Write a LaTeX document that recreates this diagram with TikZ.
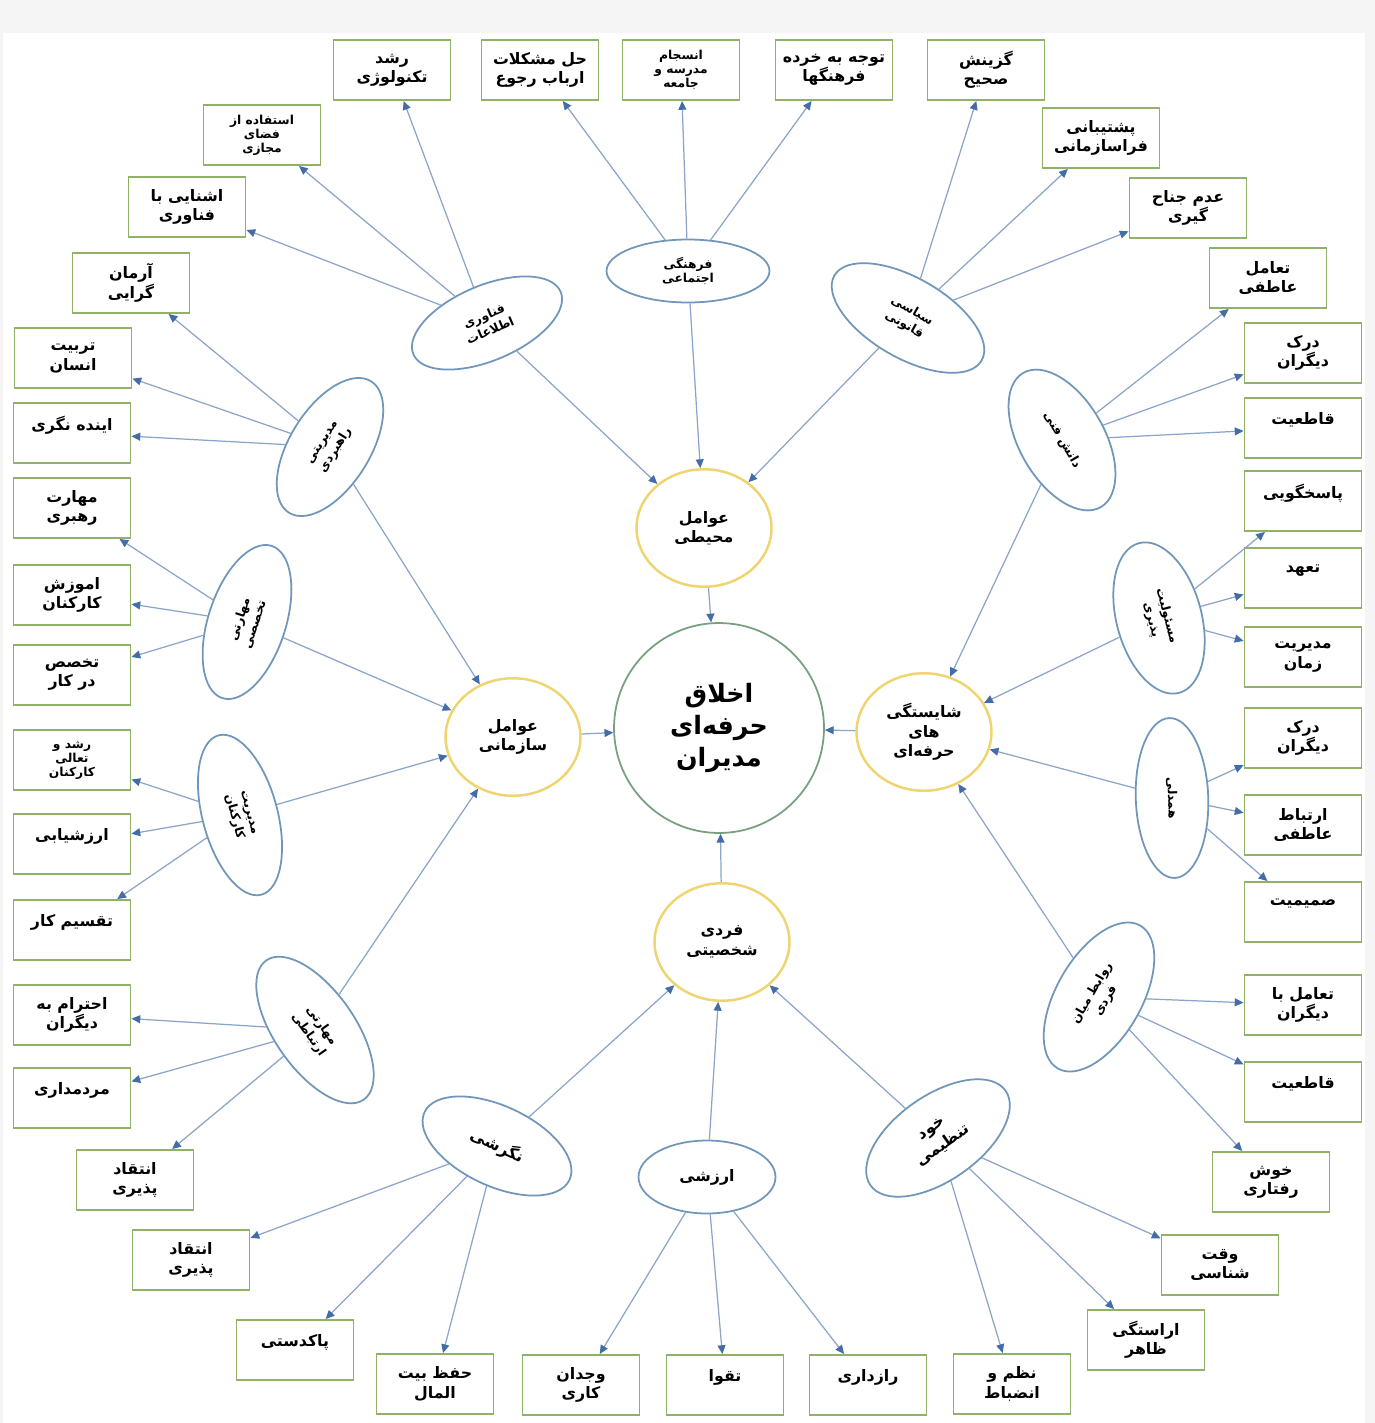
\documentclass[tikz,border=0pt]{standalone}
\usepackage{fontspec}
\newfontfamily\arabicfont[Script=Arabic]{DejaVu Sans}
\TeXXeTstate=1
\usetikzlibrary{shapes.geometric,arrows.meta}
\definecolor{boxgreen}{RGB}{143,178,104}
\definecolor{ellblue}{RGB}{112,150,186}
\definecolor{linkblue}{RGB}{138,164,202}
\definecolor{tipblue}{RGB}{68,108,168}
\definecolor{catyellow}{RGB}{240,212,112}
\definecolor{coregreen}{RGB}{118,160,128}
\newcommand{\rl}[1]{\beginR #1\endR}

\begin{document}
\begin{tikzpicture}[
    x=0.02cm, y=-0.02cm,
    font=\arabicfont,
    leaf/.style={
        draw=boxgreen,
        line width=1.1pt,
        minimum width=2.34cm,
        minimum height=1.2cm,
        inner sep=2pt,
        align=center,
        font=\arabicfont\bfseries\small
    },
    leafthree/.style={leaf, font=\arabicfont\bfseries\scriptsize},
    sub/.style={ellipse, draw=ellblue, line width=1pt, inner sep=0pt,
        align=center, font=\arabicfont\bfseries\scriptsize},
    subbig/.style={sub, font=\arabicfont\bfseries\small},
    cat/.style={ellipse, draw=catyellow, line width=1.4pt,
        minimum width=2.7cm, minimum height=2.35cm,
        align=center, font=\arabicfont\bfseries\small},
    core/.style={circle, draw=coregreen, line width=1pt,
        minimum size=4.2cm, align=center, font=\arabicfont\bfseries\Large},
    arrow/.style={draw=linkblue, line width=0.7pt,
        -{Triangle[length=5pt, width=4.5pt, color=tipblue]}}
]
\useasboundingbox (0,0) rectangle (1375,1423);
\fill[gray!8] (0,0) rectangle (1375,1423);
\fill[white] (3,33) rectangle (1365,1423);

% ============================================================
% MRKEZ I KATEGORIE
% ============================================================
\node[core] (core) at (719,728) {\rl{اخلاق}\\\rl{حرفه‌ای}\\\rl{مدیران}};
\node[cat] (env) at (704,528) {\rl{عوامل}\\\rl{محیطی}};
\node[cat] (org) at (513,737) {\rl{عوامل}\\\rl{سازمانی}};
\node[cat] (comp) at (924,732) {\rl{شایستگی}\\\rl{های}\\\rl{حرفه‌ای}};
\node[cat] (pers) at (722,942) {\rl{فردی}\\\rl{شخصیتی}};

\draw[arrow] (env) -- (core);
\draw[arrow] (org) -- (core);
\draw[arrow] (comp) -- (core);
\draw[arrow] (pers) -- (core);

% ============================================================
% ZIRMOLLEFEHA (ellipses)
% ============================================================
\node[sub, minimum width=3.2cm, minimum height=1.5cm, rotate=23] (ict) at (487,323) {\rl{فناوری}\\[1pt]\rl{اطلاعات}};
\node[sub, minimum width=3.26cm, minimum height=1.26cm] (cult) at (688,271) {\rl{فرهنگی}\\\rl{اجتماعی}};
\node[sub, minimum width=3.4cm, minimum height=1.6cm, rotate=-30] (pol) at (908,318) {\rl{سیاسی}\\[1pt]\rl{قانونی}};
\node[sub, minimum width=3.1cm, minimum height=1.7cm, rotate=-60] (tech) at (1062,440) {\rl{دانش فنی}};
\node[sub, minimum width=3.1cm, minimum height=1.7cm, rotate=-75] (resp) at (1159,618) {\rl{مسئولیت}\\[1pt]\rl{پذیری}};
\node[sub, minimum width=3.2cm, minimum height=1.45cm, rotate=-88] (emp) at (1172,798) {\rl{همدلی}};
\node[sub, minimum width=3.3cm, minimum height=1.7cm, rotate=60] (inter) at (1099,997) {\rl{روابط میان}\\[1pt]\rl{فردی}};
\node[subbig, minimum width=3.3cm, minimum height=1.7cm, rotate=35] (selfreg) at (938,1138) {\rl{خود}\\[1pt]\rl{تنظیمی}};
\node[subbig, minimum width=2.74cm, minimum height=1.46cm] (value) at (707,1177) {\rl{ارزشی}};
\node[subbig, minimum width=3.2cm, minimum height=1.6cm, rotate=-25] (attit) at (497,1146) {\rl{نگرشی}};
\node[sub, minimum width=3.4cm, minimum height=1.6cm, rotate=-55] (comm) at (315,1030) {\rl{مهارتی}\\[1pt]\rl{ارتباطی}};
\node[sub, minimum width=3.3cm, minimum height=1.5cm, rotate=-75] (hr) at (240,815) {\rl{مدیریت}\\[1pt]\rl{کارکنان}};
\node[sub, minimum width=3.2cm, minimum height=1.55cm, rotate=72] (skill) at (247,622) {\rl{مهارتی}\\[1pt]\rl{تخصصی}};
\node[sub, minimum width=3.1cm, minimum height=1.6cm, rotate=58] (strat) at (330,447) {\rl{مدیریتی}\\[1pt]\rl{راهبردی}};

\draw[arrow] (ict) -- (env);
\draw[arrow] (cult) -- (env);
\draw[arrow] (pol) -- (env);
\draw[arrow] (strat) -- (org);
\draw[arrow] (skill) -- (org);
\draw[arrow] (hr) -- (org);
\draw[arrow] (comm) -- (org);
\draw[arrow] (tech) -- (comp);
\draw[arrow] (resp) -- (comp);
\draw[arrow] (emp) -- (comp);
\draw[arrow] (inter) -- (comp);
\draw[arrow] (attit) -- (pers);
\draw[arrow] (value) -- (pers);
\draw[arrow] (selfreg) -- (pers);

% ============================================================
% SHAKHESHA - bala
% ============================================================
\node[leaf] (techgrowth) at (392,70) {\rl{رشد}\\\rl{تکنولوژی}};
\node[leaf] (probsolve) at (540,70) {\rl{حل مشکلات}\\\rl{ارباب رجوع}};
\node[leafthree] (cohesion) at (681,70) {\rl{انسجام}\\\rl{مدرسه و}\\\rl{جامعه}};
\node[leaf] (subcult) at (834,70) {\rl{توجه به خرده}\\\rl{فرهنگها}};
\node[leaf] (recruit) at (986,70) {\rl{گزینش}\\\rl{صحیح}};
\node[leaf] (support) at (1101,138) {\rl{پشتیبانی}\\\rl{فراسازمانی}};
\node[leaf] (nonfaction) at (1188,208) {\rl{عدم جناح}\\\rl{گیری}};
\node[leafthree] (cyber) at (262,135) {\rl{استفاده از}\\\rl{فضای}\\\rl{مجازی}};
\node[leaf] (techfam) at (187,207) {\rl{اشنایی با}\\\rl{فناوری}};

\draw[arrow] (ict) -- (techgrowth);
\draw[arrow] (ict) -- (cyber);
\draw[arrow] (ict) -- (techfam);
\draw[arrow] (cult) -- (probsolve);
\draw[arrow] (cult) -- (cohesion);
\draw[arrow] (cult) -- (subcult);
\draw[arrow] (pol) -- (recruit);
\draw[arrow] (pol) -- (support);
\draw[arrow] (pol) -- (nonfaction);

% ============================================================
% SHAKHESHA - chap
% ============================================================
\node[leaf] (ideal) at (131,283) {\rl{آرمان}\\\rl{گرایی}};
\node[leaf] (educ) at (73,358) {\rl{تربیت}\\\rl{انسان}};
\node[leaf] (foresight) at (72,433) {\rl{اینده نگری}\\~};
\node[leaf] (leader) at (72,508) {\rl{مهارت}\\\rl{رهبری}};
\node[leaf] (training) at (72,595) {\rl{اموزش}\\\rl{کارکنان}};
\node[leaf] (expert) at (72,675) {\rl{تخصص}\\\rl{در کار}};
\node[leafthree] (growth) at (72,760) {\rl{رشد و}\\\rl{تعالی}\\\rl{کارکنان}};
\node[leaf] (evaluation) at (72,844) {\rl{ارزشیابی}\\~};
\node[leaf] (division) at (72,930) {\rl{تقسیم کار}\\~};
\node[leaf] (respect) at (72,1015) {\rl{احترام به}\\\rl{دیگران}};
\node[leaf] (people) at (72,1098) {\rl{مردمداری}\\~};
\node[leaf] (critic1) at (135,1180) {\rl{انتقاد}\\\rl{پذیری}};

\draw[arrow] (strat) -- (ideal);
\draw[arrow] (strat) -- (educ);
\draw[arrow] (strat) -- (foresight);
\draw[arrow] (skill) -- (leader);
\draw[arrow] (skill) -- (training);
\draw[arrow] (skill) -- (expert);
\draw[arrow] (hr) -- (growth);
\draw[arrow] (hr) -- (evaluation);
\draw[arrow] (hr) -- (division);
\draw[arrow] (comm) -- (respect);
\draw[arrow] (comm) -- (people);
\draw[arrow] (comm) -- (critic1);

% ============================================================
% SHAKHESHA - paeen
% ============================================================
\node[leaf] (critic2) at (191,1260) {\rl{انتقاد}\\\rl{پذیری}};
\node[leaf] (honesty) at (295,1350) {\rl{پاکدستی}\\~};
\node[leaf] (treasury) at (435,1384) {\rl{حفظ بیت}\\\rl{المال}};
\node[leaf] (conscience) at (581,1385) {\rl{وجدان}\\\rl{کاری}};
\node[leaf] (piety) at (725,1385) {\rl{تقوا}\\~};
\node[leaf] (secrecy) at (868,1385) {\rl{رازداری}\\~};
\node[leaf] (discipline) at (1012,1384) {\rl{نظم و}\\\rl{انضباط}};
\node[leaf] (appearance) at (1146,1340) {\rl{اراستگی}\\\rl{ظاهر}};
\node[leaf] (punctual) at (1220,1265) {\rl{وقت}\\\rl{شناسی}};

\draw[arrow] (attit) -- (critic2);
\draw[arrow] (attit) -- (honesty);
\draw[arrow] (attit) -- (treasury);
\draw[arrow] (value) -- (conscience);
\draw[arrow] (value) -- (piety);
\draw[arrow] (value) -- (secrecy);
\draw[arrow] (selfreg) -- (discipline);
\draw[arrow] (selfreg) -- (appearance);
\draw[arrow] (selfreg) -- (punctual);

% ============================================================
% SHAKHESHA - rast
% ============================================================
\node[leaf] (goodbeh) at (1271,1182) {\rl{خوش}\\\rl{رفتاری}};
\node[leaf] (decis2) at (1303,1092) {\rl{قاطعیت}\\~};
\node[leaf] (interact) at (1303,1005) {\rl{تعامل با}\\\rl{دیگران}};
\node[leaf] (intimacy) at (1303,912) {\rl{صمیمیت}\\~};
\node[leaf] (emotlink) at (1303,825) {\rl{ارتباط}\\\rl{عاطفی}};
\node[leaf] (underst2) at (1303,738) {\rl{درک}\\\rl{دیگران}};
\node[leaf] (timemgmt) at (1303,657) {\rl{مدیریت}\\\rl{زمان}};
\node[leaf] (commit) at (1303,578) {\rl{تعهد}\\~};
\node[leaf] (account) at (1303,501) {\rl{پاسخگویی}\\~};
\node[leaf] (decis1) at (1303,428) {\rl{قاطعیت}\\~};
\node[leaf] (underst1) at (1303,353) {\rl{درک}\\\rl{دیگران}};
\node[leaf] (emotint) at (1268,278) {\rl{تعامل}\\\rl{عاطفی}};

\draw[arrow] (tech) -- (emotint);
\draw[arrow] (tech) -- (underst1);
\draw[arrow] (tech) -- (decis1);
\draw[arrow] (resp) -- (account);
\draw[arrow] (resp) -- (commit);
\draw[arrow] (resp) -- (timemgmt);
\draw[arrow] (emp) -- (underst2);
\draw[arrow] (emp) -- (emotlink);
\draw[arrow] (emp) -- (intimacy);
\draw[arrow] (inter) -- (interact);
\draw[arrow] (inter) -- (decis2);
\draw[arrow] (inter) -- (goodbeh);

\end{tikzpicture}
\end{document}
